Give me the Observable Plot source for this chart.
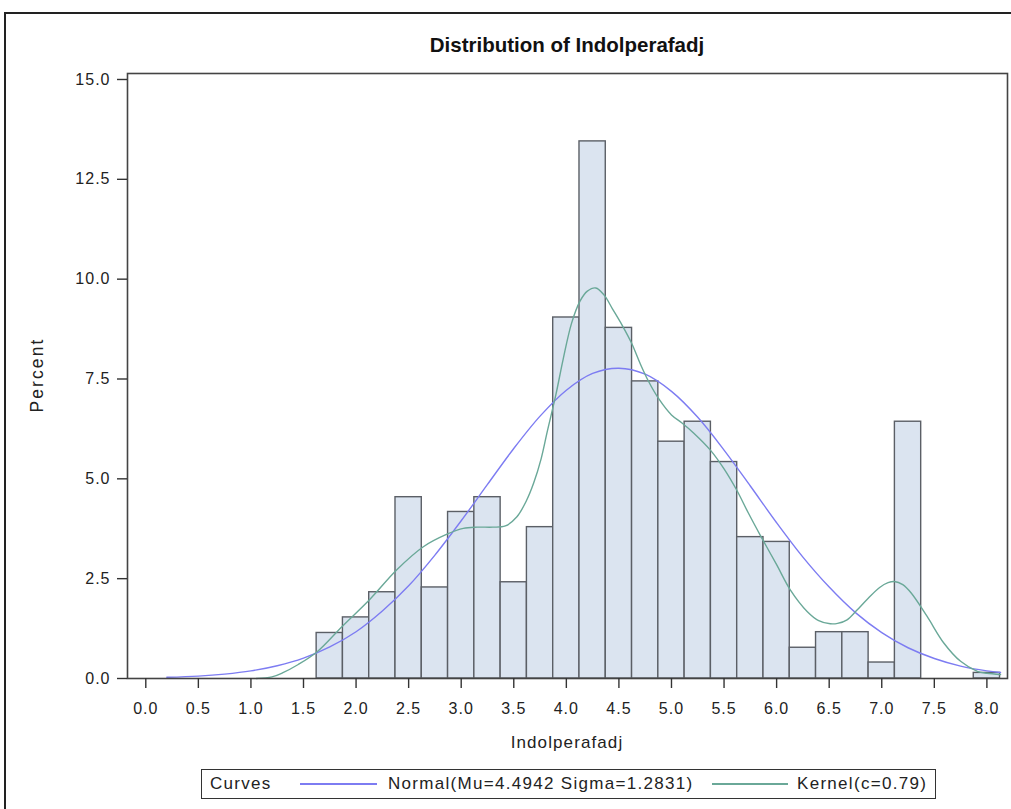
<!DOCTYPE html>
<html>
<head>
<meta charset="utf-8">
<script src="https://cdn.jsdelivr.net/npm/d3@7"></script>
<script src="https://cdn.jsdelivr.net/npm/@observablehq/plot@0.6"></script>
<style>
  html, body { margin: 0; padding: 0; background: #fff; overflow: hidden; }
  #page { position: relative; width: 1011px; height: 809px; overflow: hidden;
          font-family: "Liberation Sans", Arial, sans-serif; color: #222; }
  #outer { position: absolute; left: 4px; top: 12px; width: 1100px; height: 1000px;
           border: 2px solid #222; box-sizing: border-box; }
  #title { position: absolute; left: 127px; width: 880px; top: 34px; text-align: center;
           font-size: 20.5px; font-weight: bold; line-height: 21px; color: #111; }
  #chart { position: absolute; left: 0; top: 60px; }
  #xlabel { position: absolute; left: 127px; width: 880px; top: 734px; text-align: center;
            font-size: 17px; letter-spacing: 1.1px; line-height: 17px; }
  #ylabel { position: absolute; left: 37px; top: 375px; transform: translate(-50%, -50%) rotate(-90deg);
            font-size: 17.5px; letter-spacing: 2.1px; white-space: nowrap; }
  #legend { position: absolute; left: 201px; top: 769px; width: 735px; height: 30px;
            border: 1.5px solid #333; box-sizing: border-box; font-size: 17px; letter-spacing: 1.3px; }
  #legend span { position: absolute; top: 5px; line-height: 17px; white-space: nowrap; }
  #legend i { position: absolute; top: 13px; height: 2px; display: block; }
</style>
</head>
<body>
<div id="page">
  <div id="outer"></div>
  <div id="title"></div>
  <div id="chart"></div>
  <div id="xlabel"></div>
  <div id="ylabel"></div>
  <div id="legend"></div>
</div>
<script>
// ---- Data ----
const chartTitle = "Distribution of Indolperafadj";
const xLabel = "Indolperafadj";
const yLabel = "Percent";

// Histogram bins (centers) and percentages
const binWidth = 0.25;
const binCenters = [1.75, 2.0, 2.25, 2.5, 2.75, 3.0, 3.25, 3.5, 3.75, 4.0, 4.25, 4.5,
                    4.75, 5.0, 5.25, 5.5, 5.75, 6.0, 6.25, 6.5, 6.75, 7.0, 7.25, 8.0];
const binPercents = [1.14, 1.53, 2.16, 4.54, 2.28, 4.17, 4.54, 2.41, 3.79, 9.04, 13.45, 8.78,
                     7.44, 5.93, 6.43, 5.42, 3.54, 3.42, 0.77, 1.16, 1.16, 0.40, 6.43, 0.14];

// Normal curve (Mu=4.4942 Sigma=1.2831)
const normalX = [0.2, 0.5, 0.75, 1.0, 1.25, 1.5, 1.75, 2.0, 2.25, 2.5, 2.75, 3.0, 3.25, 3.5,
                 3.75, 4.0, 4.25, 4.5, 4.75, 5.0, 5.25, 5.5, 5.75, 6.0, 6.25, 6.5, 6.75, 7.0,
                 7.25, 7.5, 7.75, 8.0, 8.13];
const normalY = [0.03, 0.06, 0.11, 0.19, 0.32, 0.51, 0.79, 1.17, 1.69, 2.32, 3.09, 3.95, 4.86, 5.76,
                 6.57, 7.22, 7.64, 7.77, 7.62, 7.19, 6.54, 5.72, 4.82, 3.90, 3.04, 2.29, 1.65, 1.15,
                 0.77, 0.50, 0.31, 0.19, 0.15];

// Kernel density curve (c=0.79)
const kernelX = [1.05, 1.2, 1.3, 1.45, 1.63, 1.87, 2.13, 2.39, 2.64, 2.87, 3.02, 3.15, 3.3, 3.42,
                 3.53, 3.62, 3.69, 3.76, 3.82, 3.9, 3.97, 4.05, 4.13, 4.2, 4.28, 4.36, 4.44, 4.53,
                 4.62, 4.7, 4.78, 4.88, 5.0, 5.1, 5.21, 5.37, 5.5, 5.62, 5.73, 5.85, 6.0, 6.13,
                 6.29, 6.4, 6.51, 6.58, 6.67, 6.76, 6.86, 6.98, 7.06, 7.12, 7.2, 7.28, 7.43, 7.59,
                 7.75, 7.91, 8.0, 8.13];
const kernelY = [0.0, 0.04, 0.14, 0.35, 0.67, 1.31, 1.98, 2.73, 3.3, 3.62, 3.76, 3.79, 3.79, 3.82,
                 4.05, 4.45, 4.9, 5.5, 6.2, 7.1, 8.0, 8.9, 9.45, 9.7, 9.78, 9.6, 9.25, 8.85,
                 8.4, 7.9, 7.45, 7.0, 6.6, 6.4, 6.15, 5.72, 5.25, 4.72, 4.15, 3.56, 2.85, 2.22,
                 1.68, 1.45, 1.37, 1.38, 1.47, 1.7, 1.98, 2.28, 2.4, 2.43, 2.35, 2.14, 1.56, 0.89,
                 0.43, 0.18, 0.13, 0.10];

const xTicks = [0, 0.5, 1, 1.5, 2, 2.5, 3, 3.5, 4, 4.5, 5, 5.5, 6, 6.5, 7, 7.5, 8];
const yTicks = [0, 2.5, 5, 7.5, 10, 12.5, 15];

const legendTitle = "Curves";
const legendNormal = "Normal(Mu=4.4942 Sigma=1.2831)";
const legendKernel = "Kernel(c=0.79)";

// ---- Colors ----
const barFill = "#dbe4f0";
const barStroke = "#5b5f66";
const normalColor = "#7d7cf2";
const kernelColor = "#6aa898";

// ---- Build tables ----
const bars = binCenters.map((c, i) => ({x1: c - binWidth / 2, x2: c + binWidth / 2, y: binPercents[i]}));
const normal = normalX.map((x, i) => ({x, y: normalY[i]}));
const kernel = kernelX.map((x, i) => ({x, y: kernelY[i]}));

const chart = Plot.plot({
  width: 1011,
  height: 700,
  marginTop: 13,
  marginBottom: 82,
  marginLeft: 127,
  marginRight: 4,
  x: {domain: [-0.174, 8.196]},
  y: {domain: [0, 15.15]},
  style: {fontFamily: "'Liberation Sans', Arial, sans-serif", fontSize: "16px", letterSpacing: "1px",
          color: "#222", background: "transparent"},
  marks: [
    Plot.rectY(bars, {x1: "x1", x2: "x2", y: "y", fill: barFill, stroke: barStroke, strokeWidth: 1.4}),
    Plot.line(normal, {x: "x", y: "y", stroke: normalColor, strokeWidth: 1.4, curve: "catmull-rom"}),
    Plot.line(kernel, {x: "x", y: "y", stroke: kernelColor, strokeWidth: 1.4, curve: "catmull-rom"}),
    Plot.frame({stroke: "#444", strokeWidth: 1.6}),
    Plot.axisX({ticks: xTicks, tickFormat: d => d.toFixed(1), tickSize: 10, tickPadding: 14,
                label: null, stroke: "#333", strokeWidth: 1.4}),
    Plot.axisY({ticks: yTicks, tickFormat: d => d.toFixed(1), tickSize: 10, tickPadding: 7,
                label: null, stroke: "#333", strokeWidth: 1.4})
  ]
});
document.getElementById("chart").appendChild(chart);

document.getElementById("title").textContent = chartTitle;
document.getElementById("xlabel").textContent = xLabel;
document.getElementById("ylabel").textContent = yLabel;

const legend = document.getElementById("legend");
legend.innerHTML =
  `<span style="left:8px">${legendTitle}</span>` +
  `<i style="left:98px;width:77px;background:${normalColor}"></i>` +
  `<span style="left:186px">${legendNormal}</span>` +
  `<i style="left:510px;width:76px;background:${kernelColor}"></i>` +
  `<span style="left:595px">${legendKernel}</span>`;
</script>
</body>
</html>
